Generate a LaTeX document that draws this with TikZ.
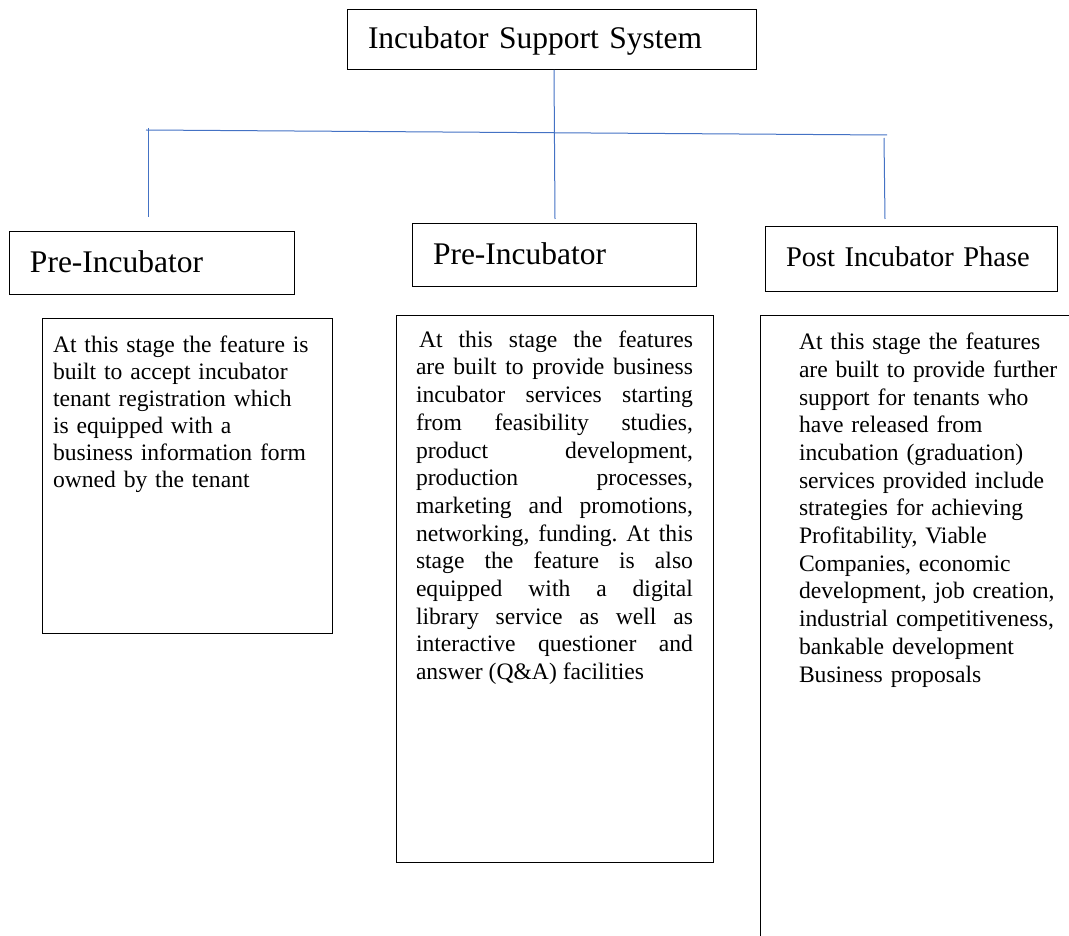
\documentclass[tikz,border=0pt]{standalone}
\usepackage{fontspec}
\setmainfont{Liberation Serif}
\definecolor{linkblue}{RGB}{68,114,196}

\begin{document}
\begin{tikzpicture}
      [x=1pt,y=-1pt,
      every node/.style={inner sep=0pt,outer sep=0pt},
      headbox/.style={draw,line width=1pt,anchor=north west,inner xsep=21pt,align=left,
        font=\fontsize{31.5}{38}\selectfont,text height=24pt,text depth=6pt},
      infobox/.style={draw,line width=1pt,anchor=north west},
      bodytext/.style={anchor=north west,font=\fontsize{23.6}{27.7}\selectfont\frenchspacing},
      link/.style={draw=linkblue,line width=1pt}]
      \clip (0,0) rectangle (1069,936);
      \node[headbox,text width=367pt,minimum height=60pt] (iss) at (347,10) {Incubator Support System};
      \node[headbox,text width=243pt,minimum height=63pt] (pre) at (9,232) {Pre-Incubator};
      \node[headbox,text width=242pt,minimum height=63pt] (inc) at (412,224) {Pre-Incubator};
      \node[headbox,text width=250pt,minimum height=65pt,font=\fontsize{28.5}{34}\selectfont,
        text height=20pt] (post) at (765,227) {Post Incubator Phase};
      \node[infobox,minimum width=290pt,minimum height=314pt] (preinfo) at (42,319) {};
      \node[infobox,minimum width=317pt,minimum height=546pt] (incinfo) at (396,316) {};
      \node[infobox,minimum width=360pt,minimum height=700pt] (postinfo) at (760,316) {};
      \node[bodytext,text width=268pt,align=left,font=\fontsize{23.6}{27}\selectfont] (pretext)
        at ([xshift=11pt,yshift=-16.4pt]preinfo.north west)
        {At this stage the feature is\\ built to accept incubator\\ tenant registration which\\
         is equipped with a\\ business information form\\ owned by the tenant};
      \node[bodytext,text width=277pt,align=justify] (inctext)
        at ([xshift=20pt,yshift=-14.6pt]incinfo.north west)
        {\tolerance=10000\hyphenpenalty=10000\hspace*{3pt}At this stage the features\linebreak
         are built to provide business\linebreak incubator services starting\linebreak
         from feasibility studies,\linebreak product development,\linebreak
         production processes,\linebreak marketing and promotions,\linebreak
         networking, funding. At this\linebreak stage the feature is also\linebreak
         equipped with a digital\linebreak library service as well as\linebreak
         interactive questioner and\linebreak answer (Q\&A) facilities};
      \node[bodytext,text width=265pt,align=left] (posttext)
        at ([xshift=39pt,yshift=-17pt]postinfo.north west)
        {At this stage the features\\ are built to provide further\\ support for tenants who\\
         have released from\\ incubation (graduation)\\ services provided include\\
         strategies for achieving\\ Profitability, Viable\\ Companies, economic\\
         development, job creation,\\ industrial competitiveness,\\ bankable development\\
         Business proposals};
      \coordinate (hl) at (146,130);
      \coordinate (hr) at (887,135);
      \coordinate (mtop) at (554,70);
      \coordinate (mbot) at (555,219);
      \coordinate (ltop) at (148,128);
      \coordinate (lbot) at (148,217);
      \coordinate (rtop) at (884,138);
      \coordinate (rbot) at (885,219);
      \draw[link] (hl) -- (hr);
      \draw[link] (mtop) -- (mbot);
      \draw[link] (ltop) -- (lbot);
      \draw[link] (rtop) -- (rbot);
\end{tikzpicture}
\end{document}
